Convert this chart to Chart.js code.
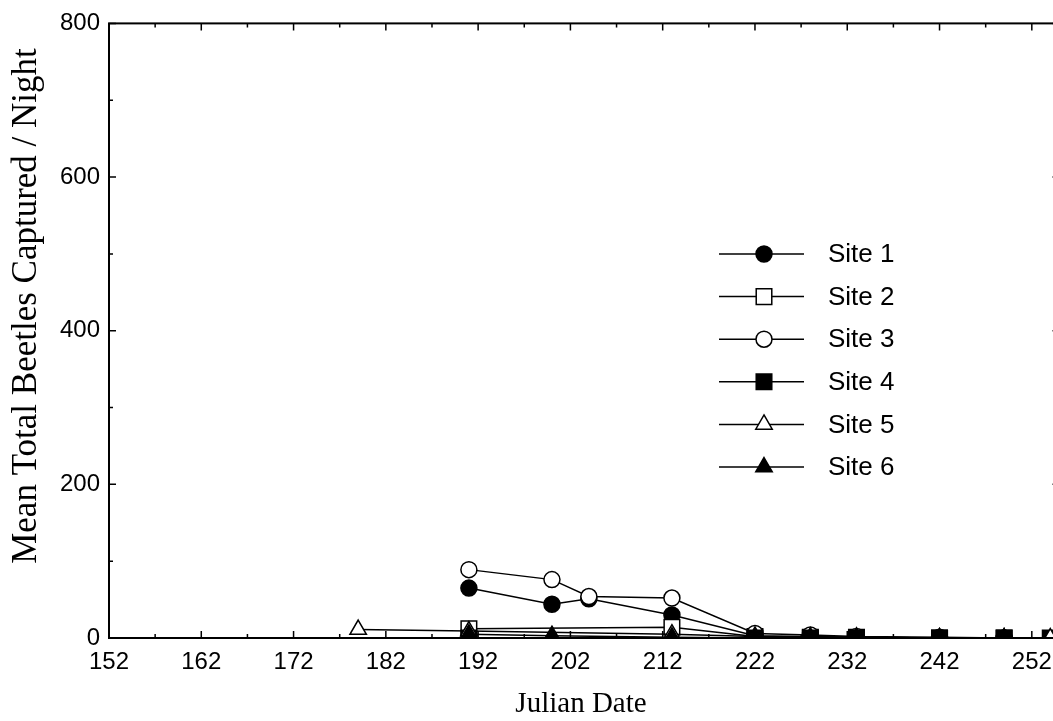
<!DOCTYPE html>
<html>
<head>
<meta charset="utf-8">
<script src="https://cdn.jsdelivr.net/npm/chart.js@4/dist/chart.umd.min.js"></script>
<style>
  body { margin: 0; background: #fff; overflow: hidden; }
</style>
</head>
<body>
<canvas id="chart" width="1072" height="721"></canvas>
<script>
  // values (Julian date, mean beetles per night)
  const site1Days = [191, 200, 204, 213, 222, 228, 233, 242, 249];
  const site1Counts = [65, 44, 51, 30, 3, 2, 1, 0, 0];
  const site2Days = [191, 213, 222, 228, 233, 242, 249];
  const site2Counts = [12, 14, 2, 1, 1, 0, 0];
  const site3Days = [191, 200, 204, 213, 222, 228, 233, 242, 249];
  const site3Counts = [89, 76, 54, 52, 6, 4, 2, 1, 0];
  const site4Days = [191, 222, 228, 233, 242, 249, 254];
  const site4Counts = [0, 0, 0, 0, 0, 0, 0];
  const site5Days = [179, 191, 213, 222, 228, 233, 242, 249, 254];
  const site5Counts = [11, 9, 5, 2, 1, 1, 0, 0, 0];
  const site6Days = [191, 200, 213, 222, 228, 233, 242, 249];
  const site6Counts = [5, 3, 1, 0, 0, 0, 0, 0];

  const xTicks = [152, 162, 172, 182, 192, 202, 212, 222, 232, 242, 252];
  const yTicks = [0, 200, 400, 600, 800];
  const siteNames = ["Site 1", "Site 2", "Site 3", "Site 4", "Site 5", "Site 6"];

  function pts(days, counts) {
    return days.map((d, i) => ({ x: d, y: counts[i] }));
  }

  function site(label, days, counts, style, fill, radius, order) {
    return {
      label,
      data: pts(days, counts),
      showLine: true,
      borderColor: "#000",
      borderWidth: 1.5,
      pointStyle: style,
      pointRadius: radius,
      pointHoverRadius: radius,
      pointBackgroundColor: fill,
      pointBorderColor: "#000",
      pointBorderWidth: 1.5,
      order
    };
  }

  const datasets = [
    site(siteNames[0], site1Days, site1Counts, "circle", "#000", 8, 6),
    site(siteNames[1], site2Days, site2Counts, "rect", "#fff", 11, 5),
    site(siteNames[2], site3Days, site3Counts, "circle", "#fff", 8, 4),
    site(siteNames[3], site4Days, site4Counts, "rect", "#000", 11, 3),
    site(siteNames[4], site5Days, site5Counts, "triangle", "#fff", 9.5, 2),
    site(siteNames[5], site6Days, site6Counts, "triangle", "#000", 9.5, 1)
  ];

  // frame, inward ticks, titles and the line+marker legend
  const decor = {
    id: "decor",
    afterDraw(chart) {
      const ctx = chart.ctx;
      const a = chart.chartArea;
      const xs = chart.scales.x;
      const ys = chart.scales.y;
      ctx.save();
      ctx.strokeStyle = "#000";
      ctx.lineWidth = 2;
      ctx.strokeRect(a.left, a.top, a.right - a.left, a.bottom - a.top);

      ctx.lineWidth = 1.5;
      ctx.beginPath();
      for (let v = xTicks[0]; v <= xs.max; v += 5) {
        const px = xs.getPixelForValue(v);
        const len = (v - xTicks[0]) % 10 === 0 ? 7 : 4;
        ctx.moveTo(px, a.bottom); ctx.lineTo(px, a.bottom - len);
        ctx.moveTo(px, a.top); ctx.lineTo(px, a.top + len);
      }
      for (let v = 0; v <= ys.max; v += 100) {
        const py = ys.getPixelForValue(v);
        const len = v % 200 === 0 ? 7 : 4;
        ctx.moveTo(a.left, py); ctx.lineTo(a.left + len, py);
        ctx.moveTo(a.right, py); ctx.lineTo(a.right - len, py);
      }
      ctx.stroke();

      ctx.fillStyle = "#000";
      ctx.textAlign = "center";
      ctx.textBaseline = "alphabetic";
      ctx.font = "29px 'Liberation Serif'";
      ctx.fillText("Julian Date", 581, 712);
      ctx.font = "35px 'Liberation Serif'";
      ctx.translate(36, 306);
      ctx.rotate(-Math.PI / 2);
      ctx.fillText("Mean Total Beetles Captured / Night", 0, 0);
      ctx.restore();

      ctx.save();
      chart.data.datasets.forEach((ds, i) => {
        const y = 254 + i * 42.6;
        ctx.strokeStyle = "#000";
        ctx.lineWidth = 1.5;
        ctx.beginPath();
        ctx.moveTo(719, y); ctx.lineTo(804, y);
        ctx.stroke();
        ctx.fillStyle = ds.pointBackgroundColor;
        Chart.helpers.drawPoint(ctx, {
          pointStyle: ds.pointStyle, radius: ds.pointRadius, rotation: 0, borderWidth: 1.5
        }, 764, y);
        ctx.fillStyle = "#000";
        ctx.font = "26px 'Liberation Sans'";
        ctx.textAlign = "left";
        ctx.textBaseline = "middle";
        ctx.fillText(ds.label, 828, y + 1);
      });
      ctx.restore();
    }
  };

  new Chart(document.getElementById("chart"), {
    type: "scatter",
    data: { datasets },
    plugins: [decor],
    options: {
      responsive: false,
      animation: false,
      layout: { padding: { top: 17, right: 3, left: 0, bottom: 0 } },
      plugins: { legend: { display: false }, tooltip: { enabled: false } },
      scales: {
        x: {
          type: "linear",
          min: 152,
          max: 255,
          grid: { display: false, drawTicks: false },
          border: { display: false },
          afterBuildTicks: s => { s.ticks = xTicks.map(v => ({ value: v })); },
          afterFit: s => { s.height = 83; },
          ticks: {
            color: "#000",
            font: { family: "'Liberation Sans'", size: 24 },
            padding: 10,
            maxRotation: 0,
            autoSkip: false
          }
        },
        y: {
          min: 0,
          max: 800,
          grid: { display: false, drawTicks: false },
          border: { display: false },
          afterBuildTicks: s => { s.ticks = yTicks.map(v => ({ value: v })); },
          afterFit: s => { s.width = 109; },
          ticks: {
            color: "#000",
            font: { family: "'Liberation Sans'", size: 24 },
            padding: 9
          }
        }
      }
    }
  });
</script>
</body>
</html>
